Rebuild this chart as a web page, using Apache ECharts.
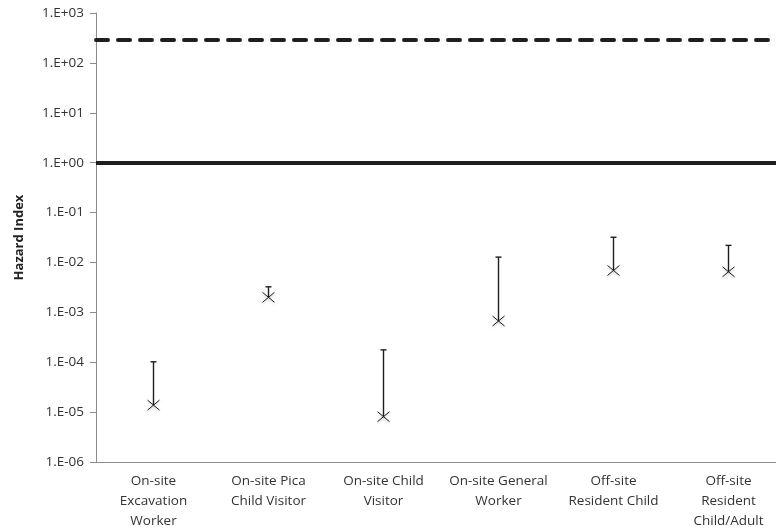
<!DOCTYPE html>
<html>
<head>
<meta charset="utf-8">
<script src="https://cdn.jsdelivr.net/npm/echarts@6/dist/echarts.min.js"></script>
<style>
html, body { margin: 0; padding: 0; background: #fff; overflow: hidden; }
#divChart { width: 786px; height: 531px; }
</style>
</head>
<body>
<div id="divChart"></div>
<script>
var categories = ['On-site\nExcavation\nWorker', 'On-site Pica\nChild Visitor', 'On-site Child\nVisitor',
    'On-site General\nWorker', 'Off-site\nResident Child', 'Off-site\nResident\nChild/Adult'];
var centralValues = [1.38e-5, 2.0e-3, 8.1e-6, 6.7e-4, 6.9e-3, 6.5e-3];
var upperValues = [1.02e-4, 3.25e-3, 1.77e-4, 1.28e-2, 3.2e-2, 2.2e-2];
var solidLineValue = 1;
var dashedLineValue = 290;

var chart;
var chartOption;

function fmtExp(v) {
    var e = Math.round(Math.log10(v));
    var s = e < 0 ? '-' : '+';
    var a = Math.abs(e);
    return '1.E' + s + (a < 10 ? '0' + a : a);
}

function chart_init() {
    // plot runs past the right edge of the window, as in the cropped original
    chart = echarts.init(document.getElementById('divChart'));
    var data = [];
    for (var i = 0; i < categories.length; ++i) {
        data.push([i, centralValues[i], upperValues[i]]);
    }
    var ink = '#1e1e1e';
    chartOption = {
    animation: false,
    grid: {
        left: 96,
        right: 0,
        top: 13,
        bottom: 68
    },
    xAxis: {
        type: 'category',
        data: categories,
        boundaryGap: true,
        axisLine: { lineStyle: { color: '#8c8c8c', width: 1 } },
        axisTick: { length: 4, lineStyle: { color: '#8c8c8c' } },
        axisLabel: {
            color: '#333',
            fontFamily: 'Open Sans',
            fontSize: 13.5,
            lineHeight: 20,
            margin: 9,
            interval: 0
        },
        splitLine: { show: false }
    },
    yAxis: {
        type: 'log',
        logBase: 10,
        min: 1e-6,
        max: 1e3,
        splitNumber: 9,
        name: 'Hazard Index',
        nameLocation: 'middle',
        nameGap: 70,
        nameTextStyle: {
            fontFamily: 'Open Sans',
            fontWeight: 'bold',
            fontSize: 13,
            color: '#222'
        },
        axisLine: { show: true, lineStyle: { color: '#8c8c8c', width: 1 } },
        axisTick: { show: true, length: 6, lineStyle: { color: '#8c8c8c' } },
        axisLabel: {
            color: '#333',
            fontFamily: 'Open Sans',
            fontSize: 13.5,
            margin: 12,
            formatter: fmtExp
        },
        splitLine: { show: false }
    },
    series: [
        {
            type: 'line',
            data: [],
            silent: true,
            markLine: {
                silent: true,
                symbol: 'none',
                label: { show: false },
                data: [
                    { yAxis: solidLineValue, lineStyle: { color: ink, width: 4, type: 'solid' } },
                    { yAxis: dashedLineValue, lineStyle: { color: ink, width: 4, type: [12, 10], cap: 'round' } }
                ]
            }
        },
        {
            type: 'custom',
            data: data,
            encode: { x: 0, y: [1, 2] },
            renderItem: function (params, api) {
                var p = api.coord([api.value(0), api.value(1)]);
                var h = api.coord([api.value(0), api.value(2)]);
                var st = { stroke: ink, lineWidth: 1.4 };
                var m = { stroke: ink, lineWidth: 1, shadowBlur: 3, shadowColor: 'rgba(0,0,0,0.35)', shadowOffsetY: 1 };
                var r = 6;
                return {
                    type: 'group',
                    children: [
                        { type: 'line', shape: { x1: p[0], y1: p[1], x2: h[0], y2: h[1] }, style: st },
                        { type: 'line', shape: { x1: h[0] - 3, y1: h[1], x2: h[0] + 3, y2: h[1] }, style: st },
                        { type: 'line', shape: { x1: p[0] - r, y1: p[1] - 5, x2: p[0] + r, y2: p[1] + 5 }, style: m },
                        { type: 'line', shape: { x1: p[0] - r, y1: p[1] + 5, x2: p[0] + r, y2: p[1] - 5 }, style: m }
                    ]
                };
            }
        }
    ]
    };
    chart.setOption(chartOption);
}

chart_init();
</script>
</body>
</html>
